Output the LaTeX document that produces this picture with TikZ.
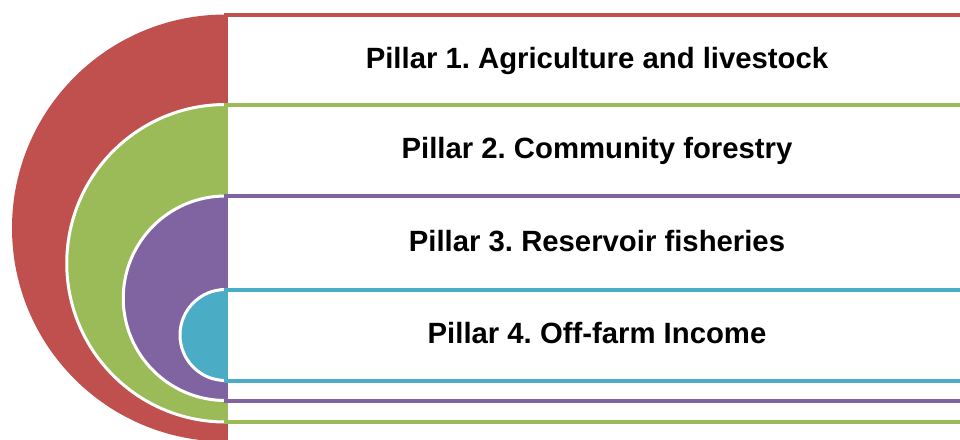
\documentclass[tikz,border=0pt]{standalone}
\usepackage{fontspec}
\setmainfont{Liberation Sans}
\frenchspacing
\definecolor{pred}{HTML}{C0504D}
\definecolor{pgreen}{HTML}{9BBB59}
\definecolor{ppurple}{HTML}{8064A2}
\definecolor{pteal}{HTML}{4BACC6}
\begin{document}
\begin{tikzpicture}[x=1pt,y=-1pt,
  bandbox/.style={draw=#1, line width=4pt, fill=white},
  halfdisc/.style={fill=#1},
  discrim/.style={draw=white, line width=3pt},
  lbl/.style={font=\fontsize{29.3}{34}\selectfont\bfseries\frenchspacing, anchor=base, inner sep=0pt, text=black}]
\useasboundingbox (0,0) rectangle (960,439);
\clip (0,0) rectangle (960,439);
% Pillar 1 (red)
\fill[halfdisc=pred] (225.5,14.5) arc[start angle=270,end angle=90,radius=213.5] -- cycle;
\draw[bandbox=pred] (225.5,14.5) rectangle (968.5,441.5);
% Pillar 2 (green)
\fill[halfdisc=pgreen] (225.5,104.5) arc[start angle=270,end angle=90,radius=158.75] -- cycle;
\draw[discrim] (225.5,104.5) arc[start angle=270,end angle=90,radius=158.75];
\draw[bandbox=pgreen] (225.5,104.5) rectangle (968.5,422);
% Pillar 3 (purple)
\fill[halfdisc=ppurple] (225.5,196) arc[start angle=270,end angle=90,radius=102.25] -- cycle;
\draw[discrim] (225.5,196) arc[start angle=270,end angle=90,radius=102.25];
\draw[bandbox=ppurple] (225.5,196) rectangle (968.5,400.5);
% Pillar 4 (teal)
\fill[halfdisc=pteal] (225.5,289.5) arc[start angle=270,end angle=90,radius=45.5] -- cycle;
\draw[discrim] (225.5,289.5) arc[start angle=270,end angle=90,radius=45.5];
\draw[bandbox=pteal] (225.5,289.5) rectangle (968.5,380.5);
% Labels
\node[lbl] (p1) at (597,68) {Pillar 1. Agriculture and livestock};
\node[lbl] (p2) at (597,158.5) {Pillar 2. Community forestry};
\node[lbl] (p3) at (597,251) {Pillar 3. Reservoir fisheries};
\node[lbl] (p4) at (597,343) {Pillar 4. Off-farm Income};
\end{tikzpicture}
\end{document}
